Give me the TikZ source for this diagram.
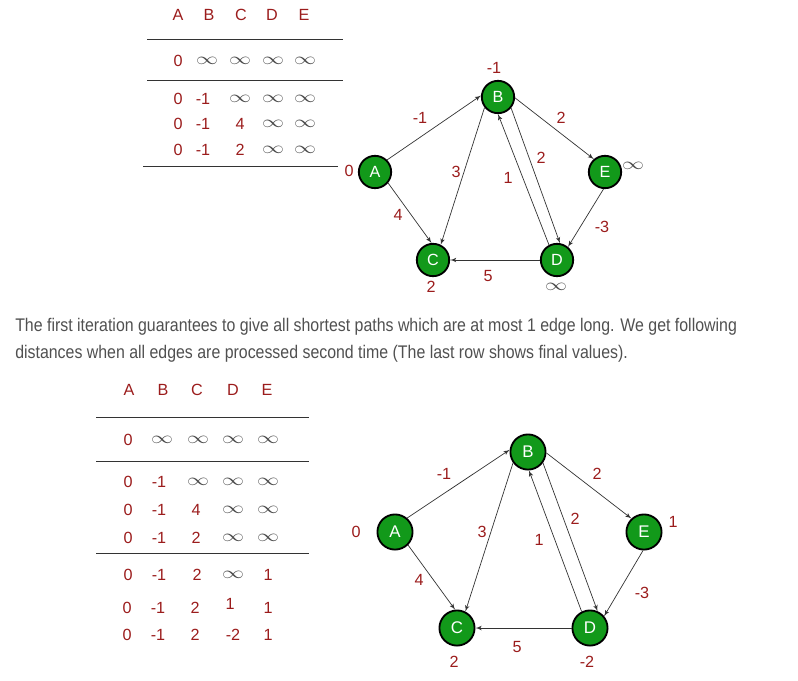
\documentclass[tikz,border=0pt]{standalone}
\usepackage{fontspec}
\setmainfont{Liberation Sans}
\newfontfamily\parafont[FakeStretch=0.87]{Liberation Sans}
\usetikzlibrary{arrows, positioning}
\definecolor{numred}{HTML}{9B1C1C}
\definecolor{vgreen}{HTML}{12991A}
\definecolor{infgray}{HTML}{4A4A4A}
\definecolor{txtgray}{HTML}{505050}
\definecolor{edgegray}{HTML}{333333}
\newcommand{\infval}{\textcolor{infgray}{\scalebox{1.3}[1]{$\infty$}}}

\tikzset{
	vertex/.style={circle, draw=black, line width=1.3pt, fill=vgreen, text=white, inner sep=0pt, minimum size=23pt, font=\fontsize{11.5}{13}\selectfont},
	bigvertex/.style={vertex, minimum size=25pt, font=\fontsize{12}{14}\selectfont},
	lbl/.style={text=numred, inner sep=0pt, font=\fontsize{11.5}{13}\selectfont},
	rule/.style={draw=edgegray, line width=0.6pt},
	edge/.style={->, draw=edgegray, line width=0.5pt}
}

\begin{document}
\begin{tikzpicture}[x=0.025cm, y=-0.025cm, >=latex']
		\useasboundingbox (0,0) rectangle (798,680);

		% first iteration table
		\foreach \l/\x in {A/178, B/209, C/241, D/272, E/304}
			\node[lbl] (ha\l) at (\x,15) {\l};
		\draw[rule] (147,39) -- (343,39);
		\draw[rule] (147,80) -- (343,80);
		\draw[rule] (143,166) -- (338,166);

		\foreach \v/\x [count=\i] in {0/178, \infval/207, \infval/240, \infval/273, \infval/305}
			\node[lbl] (ta0\i) at (\x,61) {\v};
		\foreach \v/\x [count=\i] in {0/178, -1/203, \infval/240, \infval/273, \infval/305}
			\node[lbl] (ta1\i) at (\x,99) {\v};
		\foreach \v/\x [count=\i] in {0/178, -1/203, 4/240, \infval/273, \infval/305}
			\node[lbl] (ta2\i) at (\x,124) {\v};
		\foreach \v/\x [count=\i] in {0/178, -1/203, 2/240, \infval/273, \infval/305}
			\node[lbl] (ta3\i) at (\x,150) {\v};

		% first graph
		\node[vertex] (A1) at (375,172) {A};
		\node[vertex] (B1) at (498,97) {B};
		\node[vertex] (C1) at (433,260) {C};
		\node[vertex] (D1) at (557,260) {D};
		\node[vertex] (E1) at (605,172) {E};

		\draw[edge] (A1.45) -- (B1.175);
		\draw[edge] (A1.-40) -- (C1.95);
		\draw[edge] (B1.-142) -- (C1.63);
		\draw[edge] (B1.-3) -- (E1.131);
		\draw[edge] (E1.-95) -- (D1.50);
		\draw[edge] (D1) -- (C1);
		\draw[edge] (B1.-40) -- (D1.80);
		\draw[edge] (D1.118) -- (B1.-90);

		\node[lbl] (dA1) at (349,171) {0};
		\node[lbl] (dB1) at (494,68) {-1};
		\node[lbl] (dC1) at (431,287) {2};
		\node[lbl] (dD1) at (556,287) {\infval};
		\node[lbl] (dE1) at (633,166) {\infval};

		\node[lbl] (wab1) at (420,118) {-1};
		\node[lbl] (wbe1) at (561,118) {2};
		\node[lbl] (wbc1) at (456,172) {3};
		\node[lbl] (wbd1) at (541,158) {2};
		\node[lbl] (wdb1) at (508,178) {1};
		\node[lbl] (wac1) at (398,215) {4};
		\node[lbl] (wed1) at (602,227) {-3};
		\node[lbl] (wdc1) at (488,276) {5};

		% text between the two pictures
		\node[anchor=base west, inner sep=0pt, text=txtgray, font=\parafont\fontsize{13}{15}\selectfont] (line1) at (15,331)
			{The first iteration guarantees to give all shortest paths which are at most 1 edge long. We get following};
		\node[anchor=base west, inner sep=0pt, text=txtgray, font=\parafont\fontsize{13}{15}\selectfont] (line2) at (15,358)
			{distances when all edges are processed second time (The last row shows final values).};

		% second iteration table
		\foreach \l/\x in {A/129, B/163, C/197, D/233, E/267}
			\node[lbl] (hb\l) at (\x,390) {\l};
		\draw[rule] (96,417) -- (309,417);
		\draw[rule] (96,461) -- (309,461);
		\draw[rule] (96,553) -- (309,553);

		\foreach \v/\x [count=\i] in {0/128, \infval/162, \infval/198, \infval/233, \infval/268}
			\node[lbl] (tb0\i) at (\x,440) {\v};
		\foreach \v/\x [count=\i] in {0/128, -1/159, \infval/198, \infval/233, \infval/268}
			\node[lbl] (tb1\i) at (\x,482) {\v};
		\foreach \v/\x [count=\i] in {0/128, -1/159, 4/196, \infval/233, \infval/268}
			\node[lbl] (tb2\i) at (\x,510) {\v};
		\foreach \v/\x [count=\i] in {0/128, -1/159, 2/196, \infval/233, \infval/268}
			\node[lbl] (tb3\i) at (\x,538) {\v};
		\foreach \v/\x [count=\i] in {0/128, -1/159, 2/197, \infval/233, 1/268}
			\node[lbl] (tb4\i) at (\x,575) {\v};
		\foreach \v/\x/\y [count=\i] in {0/127/608, -1/158/608, 2/195/608, 1/230/604, 1/268/608}
			\node[lbl] (tb5\i) at (\x,\y) {\v};
		\foreach \v/\x [count=\i] in {0/127, -1/158, 2/195, -2/233, 1/268}
			\node[lbl] (tb6\i) at (\x,635) {\v};

		% second graph
		\node[bigvertex] (A2) at (395,532) {A};
		\node[bigvertex] (B2) at (528,452) {B};
		\node[bigvertex] (C2) at (457,628) {C};
		\node[bigvertex] (D2) at (590,628) {D};
		\node[bigvertex] (E2) at (644,532) {E};

		\draw[edge] (A2.49) -- (B2.173);
		\draw[edge] (A2.-45) -- (C2.96);
		\draw[edge] (B2.-144) -- (C2.63);
		\draw[edge] (B2.-3) -- (E2.133);
		\draw[edge] (E2.-93) -- (D2.40);
		\draw[edge] (D2) -- (C2);
		\draw[edge] (B2.-36) -- (D2.66);
		\draw[edge] (D2.117) -- (B2.-87);

		\node[lbl] (dA2) at (356,532) {0};
		\node[lbl] (dB2) at (673,522) {1};
		\node[lbl] (dC2) at (454,662) {2};
		\node[lbl] (dD2) at (587,662) {-2};

		\node[lbl] (wab2) at (444,474) {-1};
		\node[lbl] (wbe2) at (597,474) {2};
		\node[lbl] (wbc2) at (482,532) {3};
		\node[lbl] (wbd2) at (575,519) {2};
		\node[lbl] (wdb2) at (539,540) {1};
		\node[lbl] (wac2) at (419,580) {4};
		\node[lbl] (wed2) at (642,593) {-3};
		\node[lbl] (wdc2) at (517,647) {5};
	\end{tikzpicture}
\end{document}
